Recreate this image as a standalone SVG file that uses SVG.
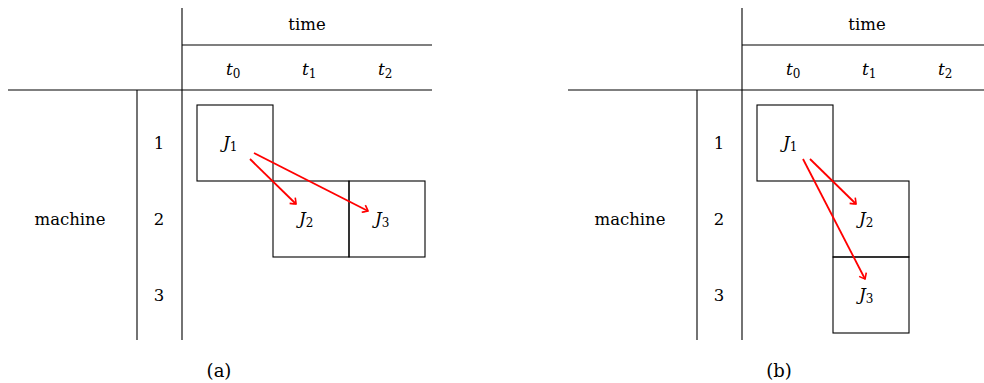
<svg xmlns="http://www.w3.org/2000/svg" width="984" height="383" viewBox="0 0 984 383">
<style>
.ln{stroke:#000;stroke-width:1.1;fill:none}
.box{stroke:#000;stroke-width:1.1;fill:none}
.t{font-family:'DejaVu Serif','Liberation Serif',serif;font-size:16.5px;fill:#000;text-anchor:middle}
.m{font-family:'DejaVu Serif','Liberation Serif',serif;font-size:17px;font-style:italic;fill:#000}
.s{font-style:normal;font-size:12px}
.arr{stroke:#f00;stroke-width:1.8;fill:none;marker-end:url(#ah)}
</style>
<defs>
<marker id="ah" viewBox="-6 -5 8 10" markerWidth="8" markerHeight="10" refX="0" refY="0" orient="auto" markerUnits="userSpaceOnUse">
<path d="M-5,-4 Q-1,-1 0,0 Q-1,1 -5,4" fill="none" stroke="#f00" stroke-width="1.6"/>
</marker>
</defs>
<g id="panel-a">
<g id="grid-a">
<line class="ln" x1="182" y1="8" x2="182" y2="340"/>
<line class="ln" x1="137" y1="90" x2="137" y2="340"/>
<line class="ln" x1="182" y1="45" x2="432" y2="45"/>
<line class="ln" x1="8" y1="90" x2="432" y2="90"/>
<text class="t" x="307" y="30">time</text>
<text class="m" x="226" y="75">t<tspan class="s" dy="3">0</tspan></text>
<text class="m" x="302" y="75">t<tspan class="s" dy="3">1</tspan></text>
<text class="m" x="378" y="75">t<tspan class="s" dy="3">2</tspan></text>
<text class="t" x="159" y="149">1</text>
<text class="t" x="159" y="225">2</text>
<text class="t" x="159" y="301">3</text>
<text class="t" x="70" y="225">machine</text>
<text class="t" x="219" y="377" style="font-size:18px">(a)</text>
</g>
<g id="a-J1"><rect class="box" x="197" y="105" width="76" height="76"/><text class="m" x="223" y="148">J<tspan class="s" dy="3">1</tspan></text></g>
<g id="a-J2"><rect class="box" x="273" y="181" width="76" height="76"/><text class="m" x="299" y="224">J<tspan class="s" dy="3">2</tspan></text></g>
<g id="a-J3"><rect class="box" x="349" y="181" width="76" height="76"/><text class="m" x="375" y="224">J<tspan class="s" dy="3">3</tspan></text></g>
<g id="a-connectors">
<line class="arr" x1="250" y1="159" x2="296" y2="204"/>
<line class="arr" x1="254" y1="153" x2="368" y2="211"/>
</g>
</g>
<g id="panel-b">
<g id="grid-b">
<line class="ln" x1="742" y1="8" x2="742" y2="340"/>
<line class="ln" x1="697" y1="90" x2="697" y2="340"/>
<line class="ln" x1="742" y1="45" x2="992" y2="45"/>
<line class="ln" x1="568" y1="90" x2="992" y2="90"/>
<text class="t" x="867" y="30">time</text>
<text class="m" x="786" y="75">t<tspan class="s" dy="3">0</tspan></text>
<text class="m" x="862" y="75">t<tspan class="s" dy="3">1</tspan></text>
<text class="m" x="938" y="75">t<tspan class="s" dy="3">2</tspan></text>
<text class="t" x="719" y="149">1</text>
<text class="t" x="719" y="225">2</text>
<text class="t" x="719" y="301">3</text>
<text class="t" x="630" y="225">machine</text>
<text class="t" x="779" y="377" style="font-size:18px">(b)</text>
</g>
<g id="b-J1"><rect class="box" x="757" y="105" width="76" height="76"/><text class="m" x="783" y="148">J<tspan class="s" dy="3">1</tspan></text></g>
<g id="b-J2"><rect class="box" x="833" y="181" width="76" height="76"/><text class="m" x="859" y="224">J<tspan class="s" dy="3">2</tspan></text></g>
<g id="b-J3"><rect class="box" x="833" y="257" width="76" height="76"/><text class="m" x="859" y="300">J<tspan class="s" dy="3">3</tspan></text></g>
<g id="b-connectors">
<line class="arr" x1="810" y1="159" x2="856" y2="204"/>
<line class="arr" x1="803" y1="159" x2="865" y2="279"/>
</g>
</g>
</svg>
